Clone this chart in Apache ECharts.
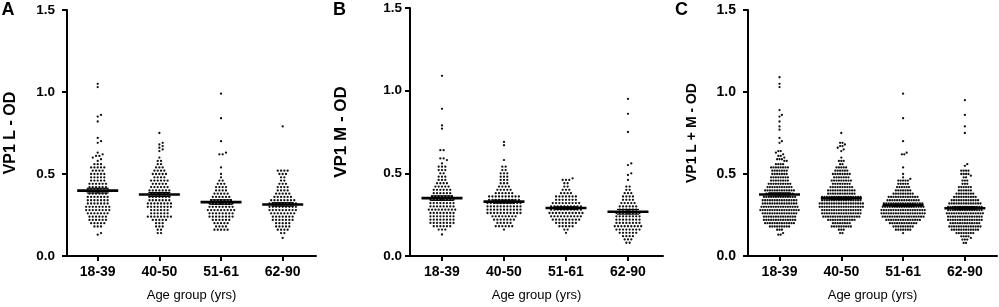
<!DOCTYPE html>
<html><head><meta charset="utf-8">
<script src="https://cdn.jsdelivr.net/npm/echarts@6/dist/echarts.min.js"></script>
<style>html,body{margin:0;padding:0;background:#fff}#c{width:999px;height:307px}</style>
</head><body><div id="c"></div>
<script>
// ---------------- DATA ----------------
const categories = ['18-39', '40-50', '51-61', '62-90'];
const yTickValues = [0, 0.5, 1.0, 1.5];
const panelLetters = ['A', 'B', 'C'];
const yTitles = ['VP1 L - OD', 'VP1 M - OD', 'VP1 L + M - OD'];
const xTitle = 'Age group (yrs)';

// VP1 L - OD (panel A)
const L_18_39 = [
  1.05, 1.03, 0.86, 0.85, 0.82, 0.72, 0.70, 0.69, 0.63, 0.62, 0.61, 0.61, 0.60, 0.59, 0.58,
  0.56, 0.56, 0.56,
  0.54, 0.54, 0.54, 0.54, 0.54,
  0.52, 0.52, 0.52, 0.52,
  0.50, 0.50, 0.50, 0.50, 0.50,
  0.48, 0.48, 0.48, 0.48, 0.48,
  0.46, 0.46, 0.46, 0.46, 0.46,
  0.44, 0.44, 0.44, 0.44, 0.44, 0.44,
  0.42, 0.42, 0.42, 0.42, 0.42, 0.42,
  0.40, 0.40, 0.40, 0.40, 0.40, 0.40, 0.40,
  0.38, 0.38, 0.38, 0.38, 0.38, 0.38,
  0.36, 0.36, 0.36, 0.36, 0.36, 0.36, 0.36,
  0.34, 0.34, 0.34, 0.34, 0.34, 0.34, 0.34,
  0.32, 0.32, 0.32, 0.32, 0.32, 0.32, 0.32,
  0.30, 0.30, 0.30, 0.30, 0.30, 0.30, 0.30, 0.30,
  0.28, 0.28, 0.28, 0.28, 0.28, 0.28, 0.28, 0.28,
  0.26, 0.26, 0.26, 0.26, 0.26, 0.26, 0.26,
  0.24, 0.24, 0.24, 0.24, 0.24, 0.24,
  0.22, 0.22, 0.22, 0.22, 0.22, 0.22,
  0.20, 0.20, 0.20, 0.20, 0.20,
  0.18, 0.18, 0.18,
  0.14, 0.13
];
const L_40_50 = [
  0.75, 0.69, 0.68, 0.67, 0.66, 0.65, 0.64, 0.60,
  0.58, 0.58, 0.56, 0.56,
  0.54, 0.54, 0.54,
  0.52, 0.52, 0.52, 0.52,
  0.50, 0.50, 0.50, 0.50, 0.50,
  0.48, 0.48, 0.48, 0.48,
  0.46, 0.46, 0.46, 0.46, 0.46, 0.46,
  0.44, 0.44, 0.44, 0.44, 0.44,
  0.42, 0.42, 0.42, 0.42, 0.42, 0.42,
  0.40, 0.40, 0.40, 0.40, 0.40, 0.40, 0.40,
  0.38, 0.38, 0.38, 0.38, 0.38, 0.38,
  0.36, 0.36, 0.36, 0.36, 0.36, 0.36, 0.36,
  0.34, 0.34, 0.34, 0.34, 0.34, 0.34, 0.34,
  0.32, 0.32, 0.32, 0.32, 0.32, 0.32, 0.32, 0.32,
  0.30, 0.30, 0.30, 0.30, 0.30, 0.30, 0.30, 0.30,
  0.28, 0.28, 0.28, 0.28, 0.28, 0.28,
  0.26, 0.26, 0.26, 0.26, 0.26, 0.26,
  0.24, 0.24, 0.24, 0.24, 0.24, 0.24, 0.24, 0.24,
  0.22, 0.22, 0.22, 0.22, 0.22,
  0.20, 0.20, 0.20,
  0.18, 0.18, 0.18,
  0.16, 0.16, 0.14, 0.14
];
const L_51_61 = [
  0.99, 0.84, 0.70, 0.63, 0.62, 0.62, 0.54, 0.50, 0.48,
  0.46, 0.46,
  0.44, 0.44, 0.44,
  0.42, 0.42, 0.42, 0.42,
  0.40, 0.40, 0.40, 0.40,
  0.38, 0.38, 0.38, 0.38, 0.38,
  0.36, 0.36, 0.36, 0.36, 0.36, 0.36,
  0.34, 0.34, 0.34, 0.34, 0.34, 0.34, 0.34,
  0.32, 0.32, 0.32, 0.32, 0.32, 0.32, 0.32, 0.32,
  0.30, 0.30, 0.30, 0.30, 0.30, 0.30, 0.30, 0.30,
  0.28, 0.28, 0.28, 0.28, 0.28, 0.28, 0.28, 0.28, 0.28,
  0.26, 0.26, 0.26, 0.26, 0.26, 0.26, 0.26, 0.26,
  0.24, 0.24, 0.24, 0.24, 0.24, 0.24, 0.24, 0.24,
  0.22, 0.22, 0.22, 0.22, 0.22, 0.22,
  0.20, 0.20, 0.20, 0.20, 0.20,
  0.18, 0.18, 0.18, 0.18,
  0.16, 0.16, 0.16, 0.16, 0.16
];
const L_62_90 = [
  0.79,
  0.52, 0.52, 0.52, 0.52,
  0.50, 0.50, 0.50,
  0.48, 0.48, 0.46, 0.46,
  0.44, 0.44, 0.44,
  0.42, 0.42, 0.42, 0.42,
  0.40, 0.40, 0.40, 0.40,
  0.38, 0.38, 0.38, 0.38, 0.38,
  0.36, 0.36, 0.36, 0.36, 0.36, 0.36,
  0.34, 0.34, 0.34, 0.34, 0.34, 0.34, 0.34, 0.34,
  0.32, 0.32, 0.32, 0.32, 0.32, 0.32, 0.32, 0.32, 0.32,
  0.30, 0.30, 0.30, 0.30, 0.30, 0.30, 0.30, 0.30, 0.30,
  0.28, 0.28, 0.28, 0.28, 0.28, 0.28, 0.28, 0.28, 0.28,
  0.26, 0.26, 0.26, 0.26, 0.26, 0.26, 0.26, 0.26,
  0.24, 0.24, 0.24, 0.24, 0.24, 0.24, 0.24,
  0.22, 0.22, 0.22, 0.22, 0.22, 0.22, 0.22,
  0.20, 0.20, 0.20, 0.20, 0.20,
  0.18, 0.18, 0.18, 0.18, 0.18,
  0.16, 0.16, 0.16, 0.16,
  0.14, 0.14, 0.11
];

// VP1 M - OD (panel B)
const M_18_39 = [
  1.09, 0.89, 0.79, 0.77, 0.64, 0.64, 0.59, 0.59, 0.58, 0.56,
  0.54, 0.54, 0.54,
  0.52, 0.52, 0.52,
  0.50, 0.50,
  0.48, 0.48, 0.48,
  0.46, 0.46, 0.46,
  0.44, 0.44, 0.44, 0.44,
  0.42, 0.42, 0.42, 0.42, 0.42,
  0.40, 0.40, 0.40, 0.40, 0.40, 0.40,
  0.38, 0.38, 0.38, 0.38, 0.38, 0.38,
  0.36, 0.36, 0.36, 0.36, 0.36, 0.36, 0.36,
  0.34, 0.34, 0.34, 0.34, 0.34, 0.34, 0.34, 0.34,
  0.32, 0.32, 0.32, 0.32, 0.32, 0.32, 0.32, 0.32,
  0.30, 0.30, 0.30, 0.30, 0.30, 0.30, 0.30, 0.30,
  0.28, 0.28, 0.28, 0.28, 0.28, 0.28, 0.28, 0.28, 0.28,
  0.26, 0.26, 0.26, 0.26, 0.26, 0.26, 0.26, 0.26,
  0.24, 0.24, 0.24, 0.24, 0.24, 0.24, 0.24, 0.24,
  0.22, 0.22, 0.22, 0.22, 0.22, 0.22, 0.22, 0.22,
  0.20, 0.20, 0.20, 0.20, 0.20, 0.20, 0.20, 0.20,
  0.18, 0.18, 0.18, 0.18, 0.18, 0.18,
  0.16, 0.16, 0.16, 0.13
];
const M_40_50 = [
  0.69, 0.67, 0.58,
  0.54, 0.54, 0.52, 0.52,
  0.50, 0.50, 0.50,
  0.48, 0.48, 0.48,
  0.46, 0.46, 0.46,
  0.44, 0.44, 0.44,
  0.42, 0.42, 0.42, 0.42,
  0.40, 0.40, 0.40, 0.40, 0.40,
  0.38, 0.38, 0.38, 0.38, 0.38, 0.38,
  0.36, 0.36, 0.36, 0.36, 0.36, 0.36, 0.36, 0.36, 0.36, 0.36,
  0.34, 0.34, 0.34, 0.34, 0.34, 0.34, 0.34, 0.34, 0.34, 0.34,
  0.32, 0.32, 0.32, 0.32, 0.32, 0.32, 0.32, 0.32, 0.32, 0.32, 0.32,
  0.30, 0.30, 0.30, 0.30, 0.30, 0.30, 0.30, 0.30, 0.30, 0.30, 0.30,
  0.28, 0.28, 0.28, 0.28, 0.28, 0.28, 0.28, 0.28, 0.28, 0.28, 0.28,
  0.26, 0.26, 0.26, 0.26, 0.26, 0.26, 0.26, 0.26, 0.26, 0.26, 0.26,
  0.24, 0.24, 0.24, 0.24, 0.24, 0.24, 0.24, 0.24,
  0.22, 0.22, 0.22, 0.22, 0.22, 0.22, 0.22,
  0.20, 0.20, 0.20, 0.20, 0.20,
  0.18, 0.18, 0.18, 0.18, 0.18, 0.18,
  0.16
];
const M_51_61 = [
  0.47,
  0.46, 0.46, 0.46,
  0.44, 0.44,
  0.42, 0.42,
  0.40, 0.40, 0.40,
  0.38, 0.38, 0.38, 0.38,
  0.36, 0.36, 0.36, 0.36, 0.36, 0.36, 0.36,
  0.34, 0.34, 0.34, 0.34, 0.34, 0.34, 0.34,
  0.32, 0.32, 0.32, 0.32, 0.32, 0.32, 0.32, 0.32, 0.32,
  0.30, 0.30, 0.30, 0.30, 0.30, 0.30, 0.30, 0.30, 0.30, 0.30,
  0.28, 0.28, 0.28, 0.28, 0.28, 0.28, 0.28, 0.28, 0.28, 0.28,
  0.26, 0.26, 0.26, 0.26, 0.26, 0.26, 0.26, 0.26, 0.26, 0.26, 0.26,
  0.24, 0.24, 0.24, 0.24, 0.24, 0.24, 0.24, 0.24, 0.24, 0.24,
  0.22, 0.22, 0.22, 0.22, 0.22, 0.22, 0.22, 0.22, 0.22,
  0.20, 0.20, 0.20, 0.20, 0.20, 0.20, 0.20,
  0.18, 0.18, 0.18, 0.18, 0.18,
  0.16, 0.16, 0.14
];
const M_62_90 = [
  0.95, 0.86, 0.75, 0.56, 0.55, 0.50, 0.49, 0.46,
  0.42, 0.42,
  0.40, 0.40,
  0.38, 0.38, 0.38,
  0.36, 0.36, 0.36, 0.36,
  0.34, 0.34, 0.34, 0.34,
  0.32, 0.32, 0.32, 0.32, 0.32,
  0.30, 0.30, 0.30, 0.30, 0.30, 0.30,
  0.28, 0.28, 0.28, 0.28, 0.28, 0.28,
  0.26, 0.26, 0.26, 0.26, 0.26, 0.26, 0.26, 0.26,
  0.24, 0.24, 0.24, 0.24, 0.24, 0.24, 0.24, 0.24,
  0.22, 0.22, 0.22, 0.22, 0.22, 0.22, 0.22, 0.22,
  0.20, 0.20, 0.20, 0.20, 0.20, 0.20, 0.20, 0.20,
  0.18, 0.18, 0.18, 0.18, 0.18, 0.18, 0.18, 0.18, 0.18,
  0.16, 0.16, 0.16, 0.16, 0.16, 0.16, 0.16, 0.16,
  0.14, 0.14, 0.14, 0.14, 0.14, 0.14,
  0.12, 0.12, 0.12, 0.12,
  0.10, 0.10, 0.10,
  0.08, 0.08
];

const L_groups = [L_18_39, L_40_50, L_51_61, L_62_90];
const M_groups = [M_18_39, M_40_50, M_51_61, M_62_90];
// Panel C pools the L and M measurements of each age group
const LM_groups = L_groups.map((g, i) => g.concat(M_groups[i]));
const panelGroups = [L_groups, M_groups, LM_groups];

// ---------------- LAYOUT / STYLE ----------------
const FONT = '"Liberation Sans", Arial, Helvetica, sans-serif';
const panels = [
  { left: 67,  top: 10, width: 249, height: 246, xmin: -0.498, xmax: 3.54,  spacing: 3.3, labelMargin: 12, nameGap: 48, titleSize: 16, ySize: 13.5, letterX: 8.5 },
  { left: 410, top: 8,  width: 253, height: 248, xmin: -0.516, xmax: 3.565, spacing: 3.3, labelMargin: 8,  nameGap: 60, titleSize: 17, ySize: 13.5, letterX: 340 },
  { left: 748, top: 10, width: 249, height: 246, xmin: -0.51,  xmax: 3.52,  spacing: 2.4, labelMargin: 12, nameGap: 49, titleSize: 14, ySize: 14, letterX: 682 }
];
const DOT_R = 1.15;
const MEAN_HALF = 20.5, SEM_HALF = 11;

// Beeswarm layout: rows of equal values are centred, rows are shifted to avoid collisions
function swarmOffsets(vals, s, pxPerUnit) {
  const rows = new Map();
  vals.forEach((v, i) => {
    const k = v.toFixed(3);
    if (!rows.has(k)) rows.set(k, []);
    rows.get(k).push(i);
  });
  const keys = [...rows.keys()].sort((a, b) => rows.get(b).length - rows.get(a).length || parseFloat(a) - parseFloat(b));
  const placed = [];
  const off = new Array(vals.length).fill(0);
  const minD = Math.min(s, 3) * 0.95;
  const minD2 = minD * minD;
  for (const k of keys) {
    const mem = rows.get(k), n = mem.length, y = parseFloat(k) * pxPerUnit;
    for (let t = 0; t < 60; t++) {
      const shift = (t % 2 === 1 ? 1 : -1) * Math.ceil(t / 2) * s / 2;
      const xs = mem.map((_, j) => (j - (n - 1) / 2) * s + shift);
      const ok = xs.every(x => placed.every(p => (p.x - x) ** 2 + (p.y - y) ** 2 >= minD2));
      if (ok || t === 59) {
        xs.forEach((x, j) => { off[mem[j]] = x; placed.push({ x, y }); });
        break;
      }
    }
  }
  return off;
}

const series = [];
panelGroups.forEach((groups, pi) => {
  const p = panels[pi];
  const pxPerUnit = p.height / 1.5;
  const dots = [];
  groups.forEach((vals, gi) => {
    const offs = swarmOffsets(vals, p.spacing, pxPerUnit);
    vals.forEach((v, k) => dots.push([gi, v, offs[k]]));
  });
  series.push({
    type: 'custom', xAxisIndex: pi, yAxisIndex: pi, data: dots, silent: true, z: 2, clip: false,
    encode: { x: 0, y: 1 },
    renderItem: (params, api) => {
      const c = api.coord([api.value(0), api.value(1)]);
      return { type: 'circle', shape: { cx: c[0] + api.value(2), cy: c[1], r: DOT_R }, style: { fill: '#111' } };
    }
  });
  const stats = groups.map((vals, gi) => {
    const n = vals.length;
    const m = vals.reduce((a, b) => a + b, 0) / n;
    const sd = Math.sqrt(vals.reduce((a, b) => a + (b - m) ** 2, 0) / (n - 1));
    return [gi, m, sd / Math.sqrt(n)];
  });
  series.push({
    type: 'custom', xAxisIndex: pi, yAxisIndex: pi, data: stats, silent: true, z: 3, clip: false,
    encode: { x: 0, y: 1 },
    renderItem: (params, api) => {
      const x = api.value(0), m = api.value(1), se = api.value(2);
      const c = api.coord([x, m]);
      const hi = api.coord([x, m + se]);
      const lo = api.coord([x, m - se]);
      const st = { stroke: '#000', lineWidth: 1.2 };
      return {
        type: 'group', children: [
          { type: 'line', shape: { x1: c[0], y1: hi[1], x2: c[0], y2: lo[1] }, style: st },
          { type: 'line', shape: { x1: c[0] - SEM_HALF, y1: hi[1], x2: c[0] + SEM_HALF, y2: hi[1] }, style: st },
          { type: 'line', shape: { x1: c[0] - SEM_HALF, y1: lo[1], x2: c[0] + SEM_HALF, y2: lo[1] }, style: st },
          { type: 'line', shape: { x1: c[0] - MEAN_HALF, y1: c[1], x2: c[0] + MEAN_HALF, y2: c[1] }, style: { stroke: '#000', lineWidth: 2.6 } }
        ]
      };
    }
  });
});

const catTicks = categories.map((_, i) => i);
const option = {
  animation: false,
  backgroundColor: '#fff',
  grid: panels.map(p => ({ left: p.left, top: p.top, width: p.width, height: p.height })),
  xAxis: panels.map((p, i) => ({
    type: 'value', gridIndex: i, min: p.xmin, max: p.xmax,
    axisLine: { show: true, onZero: false, lineStyle: { color: '#000', width: 2 } },
    axisTick: { show: true, customValues: catTicks, length: 5, lineStyle: { color: '#000', width: 2 } },
    axisLabel: { show: true, customValues: catTicks, formatter: v => categories[Math.round(v)] || '', fontSize: 14, fontWeight: 'bold', color: '#000', fontFamily: FONT, margin: 9 },
    splitLine: { show: false },
    name: xTitle, nameLocation: 'middle', nameGap: 33,
    nameTextStyle: { fontSize: 13, color: '#000', fontFamily: FONT }
  })),
  yAxis: panels.map((p, i) => ({
    type: 'value', gridIndex: i, min: yTickValues[0], max: yTickValues[yTickValues.length - 1], interval: 0.5,
    axisLine: { show: true, onZero: false, lineStyle: { color: '#000', width: 2 } },
    axisTick: { show: true, length: 5, lineStyle: { color: '#000', width: 2 } },
    axisLabel: { formatter: v => v.toFixed(1), fontSize: p.ySize, fontWeight: 'bold', color: '#000', fontFamily: FONT, margin: p.labelMargin },
    splitLine: { show: false },
    name: yTitles[i], nameLocation: 'middle', nameGap: p.nameGap,
    nameTextStyle: { fontSize: p.titleSize, fontWeight: 'bold', color: '#000', fontFamily: FONT }
  })),
  graphic: panels.map((p, i) => ({
    type: 'text', left: p.letterX - 7, top: 1,
    style: { text: panelLetters[i], font: 'bold 18px ' + FONT, fill: '#000' }
  })),
  series
};
const chart = echarts.init(document.getElementById('c'), null, { renderer: 'canvas' });
chart.setOption(option);
</script>
</body></html>
